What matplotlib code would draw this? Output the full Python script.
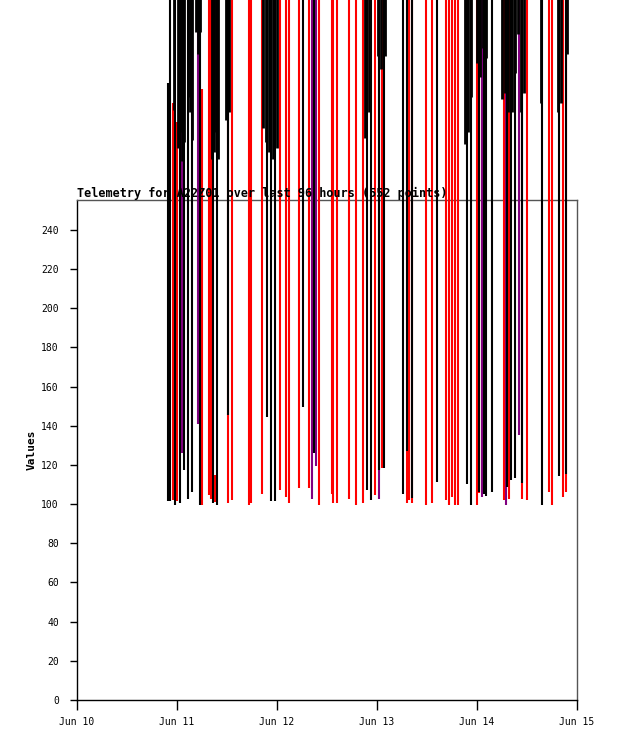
import matplotlib
matplotlib.use("Agg")
import matplotlib.pyplot as plt
import matplotlib.dates as mdates
import numpy as np

# telemetry points: offset in days from Jun 10, low value, high value, colour
offsets = [0.91, 0.93, 0.955, 0.98, 1.00, 1.03, 1.05, 1.07, 1.11, 1.15, 1.21, 1.23,
           1.25, 1.32, 1.34, 1.36, 1.38, 1.40, 1.51, 1.51, 1.55, 1.72, 1.74, 1.85,
           1.90, 1.94, 1.98, 2.03, 2.09, 2.12, 2.22, 2.26, 2.32, 2.35, 2.37, 2.39,
           2.42, 2.55, 2.56, 2.60, 2.72, 2.79, 2.86, 2.90, 2.94, 2.98, 3.02, 3.02,
           3.05, 3.07, 3.26, 3.30, 3.30, 3.32, 3.35, 3.35, 3.49, 3.55, 3.60, 3.69,
           3.72, 3.75, 3.78, 3.81, 3.90, 3.94, 4.00, 4.02, 4.02, 4.05, 4.07, 4.09,
           4.15, 4.27, 4.29, 4.30, 4.32, 4.34, 4.38, 4.42, 4.45, 4.45, 4.50, 4.65,
           4.72, 4.75, 4.82, 4.86, 4.89, 4.89]
lows = [101.7, 101.7, 102.1, 99.6, 101.7, 100.6, 126.1, 117.4, 102.6, 106.2, 140.9, 99.6,
        99.6, 104.7, 102.6, 100.6, 101.0, 99.6, 145.5, 100.6, 102.1, 99.6, 100.6, 105.2,
        144.5, 101.7, 101.7, 107.2, 103.7, 100.6, 108.3, 149.6, 108.3, 102.6, 126.1, 119.5,
        99.6, 105.2, 100.6, 100.6, 102.6, 99.6, 100.6, 107.2, 102.1, 104.7, 102.6, 117.4,
        118.5, 118.5, 105.2, 100.6, 127.1, 102.1, 100.6, 103.1, 99.6, 100.6, 111.3, 102.1,
        99.6, 103.7, 99.6, 99.6, 110.3, 99.6, 99.6, 105.7, 106.2, 103.7, 105.2, 104.0,
        106.2, 102.1, 99.6, 109.0, 102.6, 112.3, 113.4, 135.3, 102.6, 110.8, 102.1, 99.6,
        106.2, 99.6, 114.4, 103.7, 106.2, 115.4]
highs = [315, 380, 305, 380, 295, 380, 380, 380, 380, 380, 380, 380,
         312, 380, 380, 380, 115, 380, 380, 380, 380, 380, 380, 380,
         380, 380, 380, 380, 380, 380, 380, 380, 380, 380, 380, 380,
         380, 380, 380, 380, 380, 380, 380, 380, 380, 380, 380, 380,
         380, 380, 380, 380, 380, 380, 380, 380, 380, 380, 380, 380,
         380, 380, 380, 380, 380, 380, 380, 380, 380, 380, 380, 380,
         380, 380, 380, 380, 380, 380, 380, 380, 380, 380, 380, 380,
         380, 380, 380, 380, 380, 380]
colors = ['black', 'black', 'red', 'black', 'red', 'black', 'purple', 'black', 'black', 'black', 'purple', 'black',
          'red', 'red', 'red', 'black', 'red', 'black', 'black', 'red', 'red', 'red', 'red', 'red',
          'black', 'black', 'black', 'red', 'red', 'red', 'red', 'black', 'red', 'purple', 'black', 'purple',
          'red', 'red', 'red', 'red', 'red', 'red', 'red', 'black', 'black', 'red', 'purple', 'black',
          'red', 'black', 'black', 'red', 'black', 'red', 'red', 'black', 'red', 'red', 'black', 'red',
          'red', 'red', 'red', 'red', 'black', 'black', 'red', 'red', 'black', 'purple', 'black', 'black',
          'black', 'red', 'purple', 'black', 'red', 'black', 'black', 'purple', 'red', 'black', 'red', 'black',
          'red', 'red', 'black', 'red', 'red', 'black']

# high-only readings (all black), they sit above the plotted range
peak_offsets = [0.975, 1.01, 1.03, 1.05, 1.07, 1.11, 1.13, 1.15, 1.19, 1.21, 1.23,
                1.35, 1.37, 1.39, 1.41, 1.49, 1.52, 1.86, 1.89, 1.92, 1.96, 2.00,
                2.88, 2.92, 3.01, 3.04, 3.08, 3.88, 3.91, 3.94, 4.00, 4.03, 4.06, 4.09,
                4.25, 4.28, 4.31, 4.35, 4.38, 4.41, 4.44, 4.47, 4.64, 4.81, 4.84, 4.90]
peak_lows = [301, 282, 290, 275, 285, 308, 300, 286, 341, 330, 341,
             276, 280, 290, 276, 296, 300, 292, 285, 280, 276, 282,
             287, 300, 329, 322, 329, 284, 290, 308, 325, 318, 333, 328,
             307, 310, 300, 300, 320, 340, 300, 310, 305, 300, 305, 330]

title = "Telemetry for A22Z01 over last 96 hours (552 points)"
start = np.datetime64('2024-06-10T00:00')


def to_dates(days):
    t = start + (np.array(days) * 86400).astype('timedelta64[s]')
    return list(t.astype('datetime64[s]').astype(object))


times = to_dates(offsets)
peak_times = to_dates(peak_offsets)

mono = 'DejaVu Sans Mono'
fig = plt.figure(figsize=(6.18, 7.41), dpi=100)
ax = fig.add_axes([77 / 618, 41 / 741, 500 / 618, 500 / 741])

zorders = {'red': 2, 'purple': 3, 'black': 4}
for c in ['red', 'purple', 'black']:
    idx = [i for i, col in enumerate(colors) if col == c]
    lc = ax.vlines([times[i] for i in idx], [lows[i] for i in idx], [highs[i] for i in idx],
                   colors=c, linewidth=1.5, zorder=zorders[c])
    lc.set_clip_on(False)

pk = ax.vlines(peak_times, peak_lows, [380] * len(peak_lows), colors='black',
               linewidth=2.0, zorder=4)
pk.set_clip_on(False)

ax.set_ylim(0, 255.3)
ax.set_xlim(start.astype('datetime64[s]').astype(object),
            (start + np.timedelta64(5, 'D')).astype('datetime64[s]').astype(object))
ax.set_yticks(np.arange(0, 241, 20))
ax.xaxis.set_major_locator(mdates.DayLocator())
ax.xaxis.set_major_formatter(mdates.DateFormatter('%b %d'))

for lab in ax.get_xticklabels() + ax.get_yticklabels():
    lab.set_fontfamily(mono)
    lab.set_fontsize(7)
ax.tick_params(axis='y', length=5, width=1, pad=8)
ax.tick_params(axis='x', length=7, width=1, pad=5)

ax.spines['top'].set_color('#555555')
ax.spines['right'].set_color('#555555')
for s in ax.spines.values():
    s.set_linewidth(1)
    s.set_zorder(1)

ax.set_ylabel('Values', fontfamily=mono, fontsize=8, fontweight='bold', labelpad=3)
fig.text(77 / 618, 1 - 193 / 741, title, fontfamily=mono, fontsize=8.5, fontweight='bold',
         ha='left', va='center', zorder=1)

fig.savefig('out.png', dpi=100)
